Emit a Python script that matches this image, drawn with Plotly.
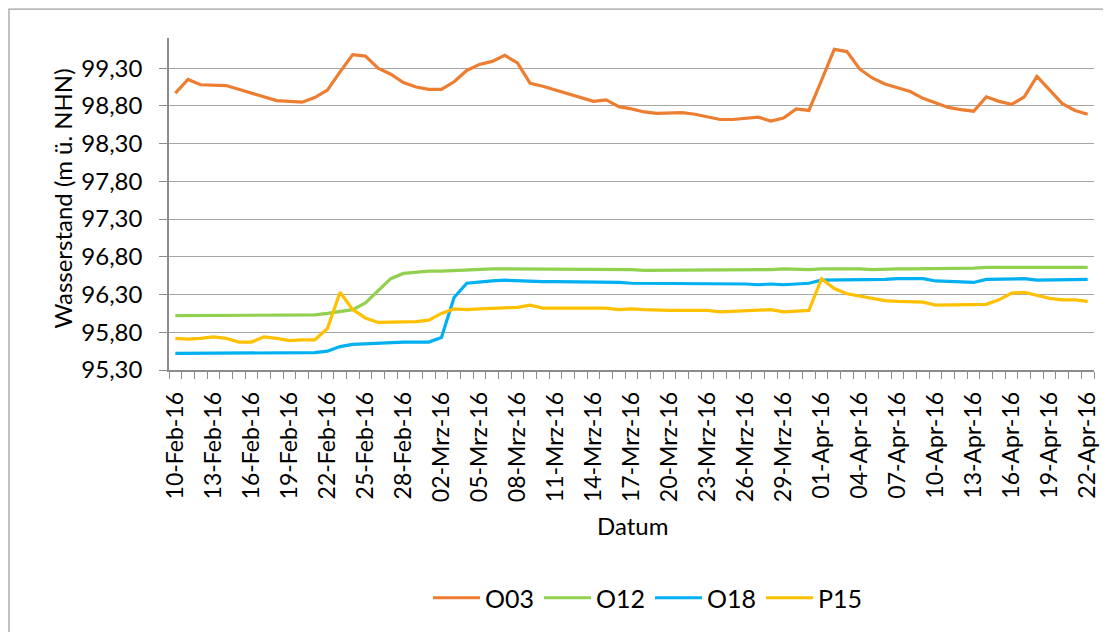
import pandas as pd
import plotly.graph_objects as go

# ---- data -----------------------------------------------------------------
dates = pd.date_range("2016-02-10", "2016-04-22", freq="D")

o03 = [98.97, 99.15, 99.08, 99.08, 99.07, 99.02, 98.97, 98.92, 98.87, 98.86,
       98.85, 98.91, 99.01, 99.25, 99.48, 99.46, 99.30, 99.22, 99.11, 99.05,
       99.02, 99.02, 99.12, 99.27, 99.35, 99.39, 99.47, 99.37, 99.10, 99.06,
       99.01, 98.97, 98.92, 98.86, 98.88, 98.79, 98.76, 98.72, 98.70, 98.70,
       98.71, 98.69, 98.65, 98.62, 98.62, 98.64, 98.65, 98.60, 98.64, 98.76,
       98.74, 99.14, 99.55, 99.52, 99.29, 99.17, 99.09, 99.04, 98.99, 98.90,
       98.84, 98.78, 98.75, 98.73, 98.92, 98.86, 98.82, 98.92, 99.19, 99.01,
       98.83, 98.74, 98.69]

o12 = [96.02, 96.02, 96.02, 96.02, 96.03, 96.02, 96.02, 96.02, 96.02, 96.02,
       96.02, 96.03, 96.05, 96.07, 96.10, 96.19, 96.35, 96.51, 96.58, 96.60,
       96.61, 96.61, 96.62, 96.63, 96.63, 96.64, 96.64, 96.64, 96.64, 96.64,
       96.64, 96.63, 96.63, 96.63, 96.63, 96.63, 96.63, 96.62, 96.62, 96.62,
       96.62, 96.63, 96.62, 96.63, 96.63, 96.63, 96.63, 96.63, 96.64, 96.63,
       96.63, 96.64, 96.64, 96.65, 96.64, 96.63, 96.64, 96.64, 96.64, 96.64,
       96.64, 96.64, 96.65, 96.65, 96.66, 96.66, 96.67, 96.66, 96.66, 96.66,
       96.66, 96.66, 96.66]

o18 = [95.52, 95.52, 95.52, 95.52, 95.53, 95.53, 95.53, 95.53, 95.53, 95.53,
       95.53, 95.53, 95.55, 95.61, 95.64, 95.65, 95.66, 95.66, 95.67, 95.67,
       95.67, 95.73, 96.26, 96.45, 96.47, 96.48, 96.49, 96.48, 96.48, 96.47,
       96.47, 96.47, 96.47, 96.47, 96.46, 96.46, 96.45, 96.45, 96.44, 96.44,
       96.45, 96.45, 96.44, 96.44, 96.44, 96.44, 96.43, 96.44, 96.43, 96.44,
       96.45, 96.49, 96.49, 96.50, 96.50, 96.50, 96.50, 96.51, 96.51, 96.51,
       96.48, 96.47, 96.47, 96.46, 96.50, 96.50, 96.50, 96.51, 96.49, 96.49,
       96.49, 96.49, 96.50]

p15 = [95.72, 95.71, 95.72, 95.74, 95.72, 95.67, 95.67, 95.74, 95.72, 95.69,
       95.70, 95.70, 95.85, 96.33, 96.10, 95.99, 95.93, 95.93, 95.93, 95.94,
       95.96, 96.05, 96.11, 96.10, 96.11, 96.12, 96.13, 96.13, 96.16, 96.12,
       96.12, 96.12, 96.12, 96.12, 96.12, 96.10, 96.11, 96.10, 96.09, 96.09,
       96.09, 96.09, 96.09, 96.07, 96.08, 96.08, 96.10, 96.10, 96.07, 96.08,
       96.09, 96.51, 96.38, 96.31, 96.28, 96.25, 96.22, 96.21, 96.20, 96.20,
       96.16, 96.16, 96.17, 96.16, 96.17, 96.23, 96.32, 96.33, 96.29, 96.25,
       96.23, 96.23, 96.21]

tick_labels = ["10-Feb-16", "13-Feb-16", "16-Feb-16", "19-Feb-16", "22-Feb-16",
               "25-Feb-16", "28-Feb-16", "02-Mrz-16", "05-Mrz-16", "08-Mrz-16",
               "11-Mrz-16", "14-Mrz-16", "17-Mrz-16", "20-Mrz-16", "23-Mrz-16",
               "26-Mrz-16", "29-Mrz-16", "01-Apr-16", "04-Apr-16", "07-Apr-16",
               "10-Apr-16", "13-Apr-16", "16-Apr-16", "19-Apr-16", "22-Apr-16"]

series_names = ["O03", "O12", "O18", "P15"]
series_colors = ["#ED7D31", "#92D050", "#00B0F0", "#FFC000"]

# ---- figure ---------------------------------------------------------------
FONT = "Lato, 'Noto Sans', sans-serif"
OFF = 8                      # page body margin
W, H = 1111 - OFF, 632 - OFF
# target page-pixel positions
PX0, PX1, PY0, PY1 = 169, 1094, 38, 371
L, R, T, B = PX0 - OFF, (W + OFF) - PX1, PY0 - OFF, (H + OFF) - PY1
pw, ph = W - L - R, H - T - B


def px(xp):   # page x -> paper
    return (xp - PX0) / pw


def py(yp):   # page y -> paper
    return (PY1 - yp) / ph


fig = go.Figure()
for name, vals, col in zip(series_names, [o03, o12, o18, p15], series_colors):
    fig.add_trace(go.Scatter(x=dates, y=vals, name=name, mode="lines",
                             line=dict(color=col, width=3.2)))

axis_col = "#8C8C8C"
fig.update_layout(
    width=W, height=H,
    margin=dict(l=L, r=R, t=T, b=B, pad=0),
    paper_bgcolor="white", plot_bgcolor="white",
    separators=",.",
    font=dict(family=FONT, size=22, color="#000000"),
    showlegend=True,
    legend=dict(orientation="h", x=px(648), xanchor="center",
                y=py(598), yanchor="middle",
                font=dict(size=25), itemwidth=47, tracegroupgap=0,
                bgcolor="rgba(0,0,0,0)"),
    xaxis=dict(
        type="date",
        range=[dates[0] - pd.Timedelta(hours=12), dates[-1] + pd.Timedelta(hours=12)],
        tickmode="array", tickvals=list(dates[::3]), ticktext=tick_labels,
        tickangle=-90, ticks="", ticklabelstandoff=11,
        tickfont=dict(size=23),
        showline=True, linecolor=axis_col, linewidth=1.5,
        showgrid=False, zeroline=False,
        minor=dict(ticks="outside", ticklen=7, tickcolor=axis_col, tickwidth=1,
                   dtick=86400000, tick0="2016-02-09 12:00", showgrid=False),
    ),
    yaxis=dict(
        range=[95.3, 99.7], tick0=95.3, dtick=0.5, tickformat=".2f",
        ticks="outside", ticklen=8, tickcolor=axis_col, tickwidth=1,
        ticklabelstandoff=12,
        tickfont=dict(size=24),
        showline=True, linecolor=axis_col, linewidth=1.5,
        showgrid=True, gridcolor="#A6A6A6", gridwidth=1.3, zeroline=False,
    ),
)

# axis titles
fig.add_annotation(text="Wasserstand (m ü. NHN)", xref="paper", yref="paper",
                   x=px(63), y=py(199), textangle=-90,
                   showarrow=False, xanchor="center", yanchor="middle",
                   font=dict(size=24))
fig.add_annotation(text="Datum", xref="paper", yref="paper",
                   x=px(632), y=py(527),
                   showarrow=False, xanchor="center", yanchor="middle",
                   font=dict(size=24))

# chart-area border (extends past right/bottom edges of the picture)
fig.add_shape(type="rect", xref="paper", yref="paper",
              x0=px(9), x1=px(1130), y0=py(650), y1=py(9),
              line=dict(color="#A0A0A0", width=1.3), fillcolor="rgba(0,0,0,0)",
              layer="below")

fig.write_html("out.html")
